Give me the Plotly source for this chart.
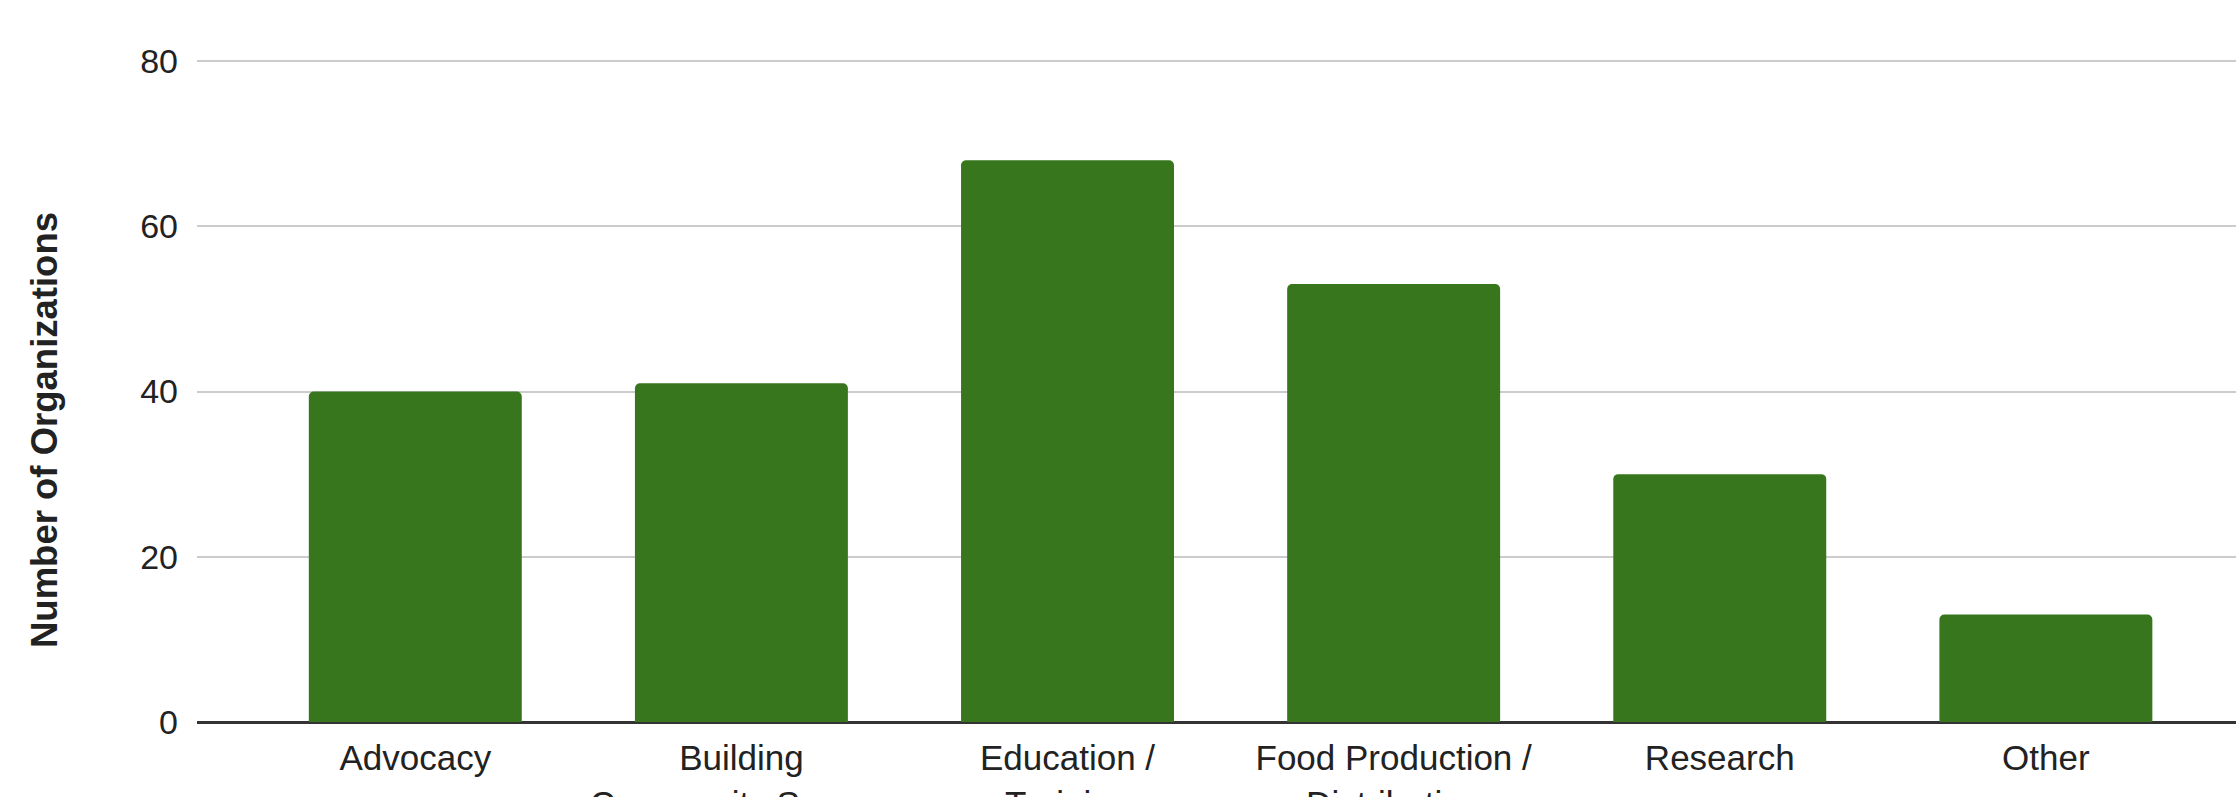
import plotly.graph_objects as go

categories = ["Advocacy", "Building<br>Community Spaces", "Education /<br>Training",
              "Food Production /<br>Distribution", "Research", "Other"]
values = [40, 41, 68, 53, 30, 13]
y_ticks = [0, 20, 40, 60, 80]
y_title = "Number of Organizations"

W, H = 2236, 797
left, right, top, bottom = 197, 0, 28, 75
plot_w = W - left - right
plot_h = H - top - bottom

fig = go.Figure(go.Bar(
    x=list(range(len(categories))), y=values,
    marker=dict(color="#38761d", line=dict(width=0)),
    hoverinfo="skip",
))

fig.update_layout(
    width=W, height=H,
    margin=dict(l=left, r=right, t=top, b=bottom, pad=0, autoexpand=False),
    paper_bgcolor="white", plot_bgcolor="white",
    bargap=0.347, barcornerradius=5,
    showlegend=False,
    font=dict(family="Liberation Sans, Arial, sans-serif", color="#222222"),
    xaxis=dict(
        tickmode="array", tickvals=list(range(len(categories))), ticktext=categories,
        range=[-0.6694, 5.583], showgrid=False, zeroline=False, showline=False,
        ticks="", tickfont=dict(size=35, color="#222222"), ticklabelstandoff=12,
        automargin=False,
    ),
    yaxis=dict(
        range=[0, 84], tickmode="array", tickvals=y_ticks,
        showgrid=True, gridcolor="#cccccc", gridwidth=2,
        zeroline=True, zerolinecolor="#333333", zerolinewidth=2.5,
        showline=False, ticks="", tickfont=dict(size=34, color="#222222"),
        ticklabelstandoff=18, automargin=False,
    ),
    annotations=[dict(
        text="<b>" + y_title + "</b>", textangle=-90,
        xref="paper", yref="paper",
        x=(45 - left) / plot_w, y=(722 - 430) / plot_h,
        xanchor="center", yanchor="middle", showarrow=False,
        font=dict(size=36.5, color="#222222", family="Liberation Sans, Arial, sans-serif"),
    )],
)

fig.write_html(
    "out.html",
    config={"displayModeBar": False},
    post_script="document.body.style.margin='0';document.body.style.overflow='hidden';",
)
